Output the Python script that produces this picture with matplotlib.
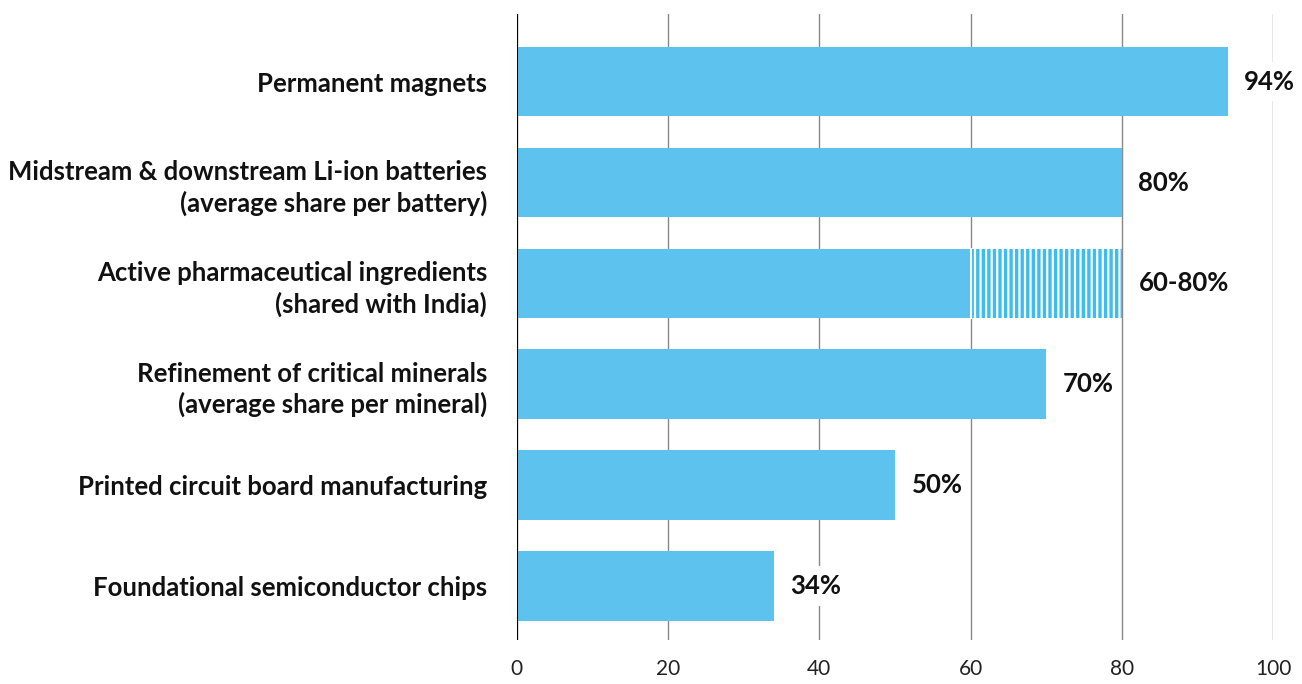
import matplotlib
matplotlib.use("Agg")
import matplotlib.pyplot as plt

categories = [
    "Permanent magnets",
    "Midstream & downstream Li-ion batteries\n(average share per battery)",
    "Active pharmaceutical ingredients\n(shared with India)",
    "Refinement of critical minerals\n(average share per mineral)",
    "Printed circuit board manufacturing",
    "Foundational semiconductor chips",
]
solid_values = [94, 80, 60, 70, 50, 34]
range_extra = [0, 0, 20, 0, 0, 0]
value_labels = ["94%", "80%", "60-80%", "70%", "50%", "34%"]
xticks = [0, 20, 40, 60, 80, 100]

plt.rcParams['font.family'] = ['Lato', 'DejaVu Sans']
plt.rcParams['hatch.linewidth'] = 1.6
plt.rcParams['hatch.color'] = 'white'

fig = plt.figure(figsize=(13.02, 6.84), dpi=100)
ax = fig.add_axes([0.397, 0.0643, 0.5807, 0.9152])

bar_color = "#5dc3ee"
ypos = list(range(len(categories)))
ax.barh(ypos, solid_values, height=0.69, color=bar_color, zorder=3)
ax.barh(ypos, range_extra, left=solid_values, height=0.69, color="#3dbcef",
        hatch='|||', edgecolor='white', linewidth=0, zorder=3)
for y, v, e in zip(ypos, solid_values, range_extra):
    if e > 0:
        ax.plot([v, v], [y - 0.345, y + 0.345], color='white', lw=1.5, zorder=4)

for y, v, e, lab in zip(ypos, solid_values, range_extra, value_labels):
    ax.text(v + e + 2.2, y, lab, va='center', ha='left', fontsize=18.5,
            fontweight='bold', color='#111111', zorder=6,
            bbox=dict(boxstyle='square,pad=0.3', fc='white', ec='none'))

ax.set_yticks(ypos)
ax.set_yticklabels(categories, fontsize=18.5, fontweight='bold', color='#111111',
                   linespacing=1.3)
ax.set_ylim(5.535, -0.67)
ax.set_xlim(0, 100)
ax.set_xticks(xticks)
ax.set_xticklabels([str(t) for t in xticks], fontsize=15, color='#222222')
ax.tick_params(axis='both', length=0)
ax.tick_params(axis='y', pad=21.5)
ax.tick_params(axis='x', pad=14)
for s in ax.spines.values():
    s.set_visible(False)
ax.xaxis.grid(True, color='#888888', lw=1, zorder=0)
ax.axvline(0, color='black', lw=1.5, zorder=5)

fig.savefig("out.png", dpi=100)
